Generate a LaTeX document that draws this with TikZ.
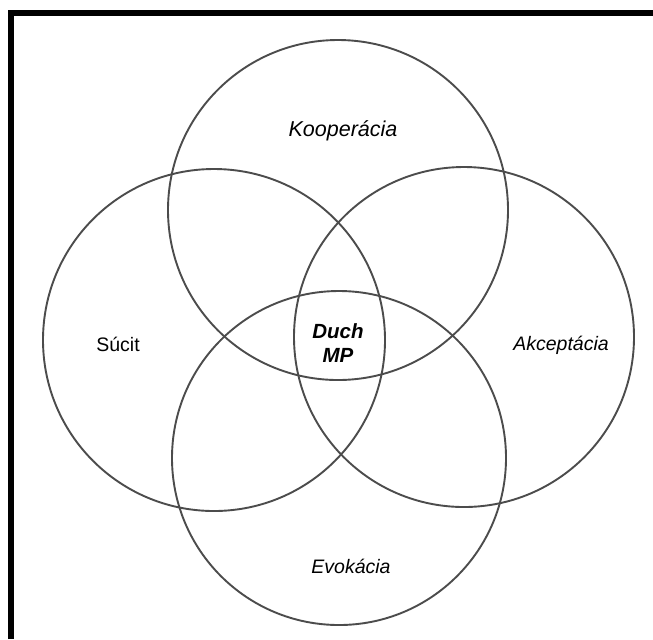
\documentclass[tikz,border=0pt]{standalone}
\usepackage{fontspec}
\setmainfont{Liberation Sans}
\usepackage{tikz}
\usetikzlibrary{positioning}

\begin{document}
\begin{tikzpicture}[
    x=0.5pt, y=-0.5pt,
    ring/.style={circle, draw=black!70, line width=0.95pt, inner sep=0pt},
    lbl/.style={inner sep=0pt, font=\fontsize{9.75}{12.5}\selectfont},
    ilbl/.style={lbl, font=\fontsize{9.75}{12.5}\selectfont\itshape},
    core/.style={lbl, align=center, font=\fontsize{10.25}{12}\selectfont\bfseries\itshape},
  ]
    \useasboundingbox (0,0) rectangle (653,639);
    \fill[white] (0,0) rectangle (653,639);

    % Frame
    \draw[line width=3pt] (11,639) -- (11,12.5) -- (653,12.5);

    % Circles
    \node[ring, minimum size=170pt] (koop) at (338,210) {};
    \node[ring, minimum size=171pt] (sucit) at (214,340) {};
    \node[ring, minimum size=170pt] (akcep) at (464,337) {};
    \node[ring, minimum size=167pt] (evok) at (339,458) {};

    % Labels
    \node[ilbl, font=\fontsize{10.75}{12.5}\selectfont\itshape] (koopl) at (343,131) {Kooperácia};
    \node[lbl] (sucitl) at (118,344) {Súcit};
    \node[ilbl] (akcepl) at (561,345) {Akceptácia};
    \node[ilbl] (evokl) at (351,566) {Evokácia};
    \node[core] (duch) at (338,343) {Duch\\MP};
\end{tikzpicture}
\end{document}
